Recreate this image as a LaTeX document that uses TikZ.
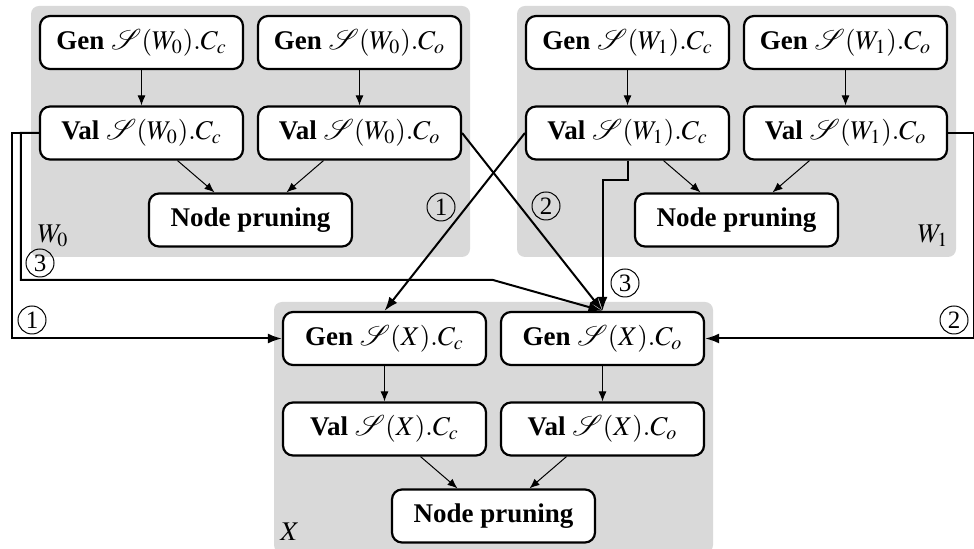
\documentclass[tikz,border=0pt]{standalone}
\usepackage{mathptmx}
\usepackage{mathrsfs}
\usepackage[no-math]{fontspec}
\setmainfont{Liberation Serif}
\usetikzlibrary{arrows.meta}
\tikzset{
  stage/.style={draw, line width=1.1pt, rounded corners=5pt, fill=white,
    minimum width=101.5pt, minimum height=26.5pt, inner sep=0pt,
    font=\fontsize{13.5}{15}\selectfont},
  panel/.style={fill=gray!30, rounded corners=4pt},
  flow/.style={-{Latex[length=5pt,width=4pt]}, line width=0.5pt},
  link/.style={-{Latex[length=7pt,width=5pt]}, line width=1pt},
  tag/.style={circle, draw, line width=0.5pt, inner sep=0pt, minimum size=14pt,
    font=\fontsize{12.5}{12.5}\selectfont},
  pname/.style={font=\fontsize{13.5}{15}\selectfont},
}
\begin{document}
\begin{tikzpicture}[x=0.5pt, y=-0.5pt]
    \useasboundingbox (0,0) rectangle (974,549);
    \foreach \p/\dx/\dy/\lx/\nm in {a/0/0/22/W_0, b/486/0/416/W_1, x/243/296/16/X}{
        \begin{scope}[shift={(\dx,\dy)}]
            \fill[panel] (31,6) rectangle (470,257);
            \node[pname] (lbl\p) at ({31+\lx}, 236) {$\nm$};
            \node[stage] (gc\p) at (141.5, 42.5) {\textbf{Gen} $\mathscr{S}(\nm).C_c$};
            \node[stage] (go\p) at (359.5, 42.5) {\textbf{Gen} $\mathscr{S}(\nm).C_o$};
            \node[stage] (vc\p) at (141.5, 133) {\textbf{Val} $\mathscr{S}(\nm).C_c$};
            \node[stage] (vo\p) at (359.5, 133) {\textbf{Val} $\mathscr{S}(\nm).C_o$};
            \node[stage] (np\p) at (250.5, 220) {\textbf{Node pruning}};
            \draw[flow] (gc\p) -- (vc\p);
            \draw[flow] (go\p) -- (vo\p);
            \draw[flow] ([xshift=18pt]vc\p.south) -- ([xshift=-18pt]np\p.north);
            \draw[flow] ([xshift=-18pt]vo\p.south) -- ([xshift=18pt]np\p.north);
        \end{scope}
    }
    \coordinate (bend) at (493, 280);
    \draw[link] (vca.west) -- ++(-27,0) |- (gcx.west);
    \draw[link] (vca.west) -- ++(-18,0) |- (bend) -- (gox.north);
    \draw[link] (vcb.west) -- (gcx.north);
    \draw[link] (voa.east) -- (gox.north);
    \draw[link] (vcb.south) -- ++(0,19) -| (gox.north);
    \draw[link] (vob.east) -- ++(26,0) |- (gox.east);
    \node[tag] (t1a) at (32, 320) {1};
    \node[tag] (t3a) at (40, 263) {3};
    \node[tag] (t1b) at (441, 207) {1};
    \node[tag] (t2a) at (546, 206) {2};
    \node[tag] (t3b) at (625, 283) {3};
    \node[tag] (t2b) at (954, 320) {2};
\end{tikzpicture}
\end{document}
